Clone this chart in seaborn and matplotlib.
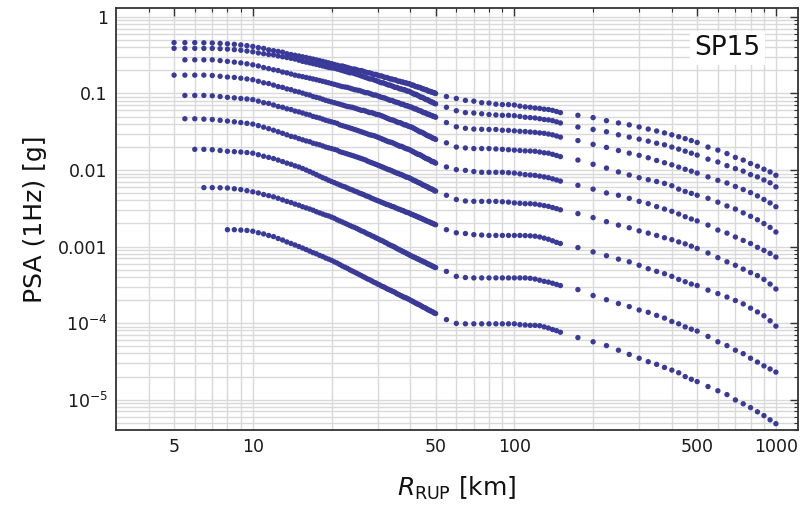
import numpy as np
import pandas as pd
import matplotlib
matplotlib.use("Agg")
import matplotlib.pyplot as plt
import seaborn as sns
from matplotlib.ticker import FixedLocator, NullFormatter, LogLocator

# ---------------- data (distances in km, log10 of PSA in g) ----------------
r_near = [5.0,5.5,6.0,6.5,7.0,7.5,8.0,8.5,9.0,9.5,10.0,10.5,11.0,11.5,12.0,12.5,13.0,13.5,14.0,14.5,
          15.0,15.5,16.0,16.5,17.0,17.5,18.0,18.5,19.0,19.5,20.0,20.5,21.0,21.5,22.0,22.5,23.0,23.5,24.0,24.5,
          25.0,25.5,26.0,26.5,27.0,27.5,28.0,28.5,29.0,29.5,30.0,30.5,31.0,31.5,32.0,32.5,33.0,33.5,34.0,34.5,
          35.0,35.5,36.0,36.5,37.0,37.5,38.0,38.5,39.0,39.5,40.0,40.5,41.0,41.5,42.0,42.5,43.0,43.5,44.0,44.5,
          45.0,45.5,46.0,46.5,47.0,47.5,48.0,48.5,49.0,49.5,50.0]
r_mid = [55,60,65,70,75,80,85,90,95,100,105,110,115,120,125,130,135,140,145,150]
r_far = [175,200,225,250,275,300,325,350,375,400,425,450,475,500,550,600,650,700,750,800,850,900,950,1000]

log_psa_c1_near = [-0.335,-0.335,-0.335,-0.337,-0.34,-0.345,-0.35,-0.357,-0.365,-0.375,
    -0.385,-0.40,-0.41,-0.43,-0.44,-0.45,-0.46,-0.48,-0.49,-0.50,-0.51,
    -0.52,-0.53,-0.54,-0.55,-0.56,-0.57,-0.58,-0.59,-0.60,-0.61,
    -0.62,-0.63,-0.64,-0.64,-0.65,-0.66,-0.67,-0.68,-0.68,-0.69,
    -0.70,-0.70,-0.71,-0.72,-0.73,-0.73,-0.74,-0.75,-0.75,-0.76,
    -0.77,-0.77,-0.78,-0.79,-0.79,-0.80,-0.81,-0.81,-0.82,-0.82,-0.83,-0.84,-0.84,-0.85,-0.85,-0.86,-0.86,-0.87,-0.87,-0.88,
    -0.89,-0.89,-0.90,-0.91,-0.91,-0.92,-0.92,-0.93,-0.94,-0.94,-0.95,-0.95,-0.96,-0.97,-0.97,-0.98,-0.98,-0.99,-0.99,-1.00]
log_psa_c2_near = [-0.41,-0.41,-0.41,-0.41,-0.41,-0.415,-0.42,-0.427,-0.435,-0.445,
    -0.455,-0.47,-0.48,-0.49,-0.495,-0.51,-0.52,-0.53,-0.54,-0.55,-0.565,
    -0.58,-0.59,-0.60,-0.61,-0.62,-0.63,-0.64,-0.65,-0.66,-0.665,
    -0.67,-0.68,-0.69,-0.70,-0.71,-0.72,-0.73,-0.73,-0.74,-0.75,
    -0.76,-0.77,-0.78,-0.79,-0.80,-0.81,-0.81,-0.82,-0.83,-0.84,
    -0.85,-0.86,-0.86,-0.87,-0.88,-0.89,-0.89,-0.90,-0.91,-0.92,-0.92,-0.93,-0.94,-0.94,-0.95,-0.95,-0.96,-0.97,-0.97,-0.98,
    -0.99,-1.00,-1.01,-1.01,-1.02,-1.03,-1.04,-1.05,-1.05,-1.06,-1.07,-1.08,-1.08,-1.09,-1.10,-1.11,-1.11,-1.12,-1.13,-1.135]
log_psa_c3_near = [-0.56,-0.56,-0.56,-0.56,-0.57,-0.58,-0.59,-0.60,-0.612,
    -0.625,-0.64,-0.66,-0.675,-0.69,-0.70,-0.72,-0.73,-0.745,-0.76,-0.77,
    -0.78,-0.79,-0.80,-0.81,-0.82,-0.83,-0.84,-0.85,-0.86,-0.87,
    -0.88,-0.89,-0.90,-0.91,-0.915,-0.92,-0.93,-0.94,-0.95,-0.955,
    -0.96,-0.97,-0.98,-0.99,-0.99,-1.00,-1.01,-1.02,-1.02,-1.03,
    -1.04,-1.05,-1.055,-1.06,-1.07,-1.08,-1.09,-1.09,-1.10,-1.11,-1.115,-1.12,-1.13,-1.14,-1.14,-1.15,-1.16,-1.16,-1.17,-1.175,
    -1.18,-1.19,-1.20,-1.20,-1.21,-1.22,-1.225,-1.23,-1.24,-1.25,-1.25,-1.26,-1.27,-1.27,-1.28,-1.285,-1.29,-1.30,-1.30,-1.31]
log_psa_c4_near = [-0.76,-0.76,-0.76,-0.76,-0.765,-0.775,-0.785,-0.79,-0.80,-0.81,
    -0.82,-0.84,-0.86,-0.87,-0.89,-0.91,-0.92,-0.94,-0.95,-0.97,-0.98,
    -0.995,-1.01,-1.02,-1.04,-1.05,-1.06,-1.075,-1.09,-1.10,-1.11,
    -1.12,-1.13,-1.14,-1.15,-1.16,-1.17,-1.175,-1.18,-1.19,-1.20,
    -1.21,-1.22,-1.22,-1.23,-1.24,-1.25,-1.25,-1.26,-1.27,-1.275,
    -1.28,-1.29,-1.30,-1.31,-1.32,-1.33,-1.34,-1.345,-1.35,-1.36,-1.37,-1.38,-1.38,-1.39,-1.40,-1.41,-1.41,-1.42,-1.43,-1.435,
    -1.44,-1.45,-1.46,-1.47,-1.48,-1.49,-1.50,-1.505,-1.51,-1.52,-1.53,-1.54,-1.55,-1.555,-1.56,-1.57,-1.58,-1.585,-1.59,-1.60]
log_psa_c5_near = [-1.025,-1.025,-1.025,-1.03,-1.04,-1.05,-1.057,-1.065,-1.072,
    -1.08,-1.10,-1.12,-1.13,-1.15,-1.17,-1.18,-1.20,-1.21,-1.23,-1.24,
    -1.255,-1.27,-1.28,-1.30,-1.31,-1.32,-1.335,-1.35,-1.36,-1.37,
    -1.38,-1.39,-1.41,-1.42,-1.43,-1.44,-1.45,-1.46,-1.47,-1.48,
    -1.49,-1.50,-1.51,-1.52,-1.53,-1.54,-1.545,-1.55,-1.56,-1.57,
    -1.58,-1.59,-1.60,-1.61,-1.62,-1.63,-1.635,-1.64,-1.65,-1.66,-1.67,-1.68,-1.69,-1.69,-1.70,-1.71,-1.72,-1.725,-1.73,-1.74,
    -1.75,-1.76,-1.77,-1.78,-1.79,-1.795,-1.80,-1.81,-1.82,-1.83,-1.84,-1.85,-1.855,-1.86,-1.87,-1.88,-1.89,-1.89,-1.90,-1.91]
log_psa_c6_near = [-1.33,-1.33,-1.335,-1.34,-1.35,-1.36,-1.37,-1.38,-1.39,
    -1.40,-1.42,-1.44,-1.46,-1.48,-1.50,-1.52,-1.54,-1.56,-1.57,-1.59,
    -1.605,-1.62,-1.63,-1.65,-1.66,-1.67,-1.685,-1.70,-1.71,-1.72,
    -1.73,-1.74,-1.76,-1.77,-1.78,-1.79,-1.80,-1.81,-1.82,-1.83,
    -1.84,-1.85,-1.86,-1.87,-1.885,-1.895,-1.905,-1.915,-1.925,-1.935,
    -1.945,-1.955,-1.965,-1.975,-1.985,-1.995,-2.00,-2.01,-2.02,-2.03,-2.04,-2.045,-2.055,-2.06,-2.07,-2.08,-2.09,-2.095,-2.10,-2.11,
    -2.12,-2.13,-2.14,-2.145,-2.155,-2.165,-2.17,-2.18,-2.19,-2.20,-2.205,-2.215,-2.22,-2.23,-2.24,-2.245,-2.25,-2.26,-2.27,-2.275]
log_psa_c7_near = [-1.73,-1.73,-1.735,-1.745,-1.755,-1.76,-1.765,-1.772,
    -1.78,-1.80,-1.82,-1.835,-1.85,-1.87,-1.89,-1.91,-1.925,-1.945,-1.96,
    -1.98,-2.00,-2.02,-2.04,-2.06,-2.08,-2.10,-2.115,-2.135,-2.15,
    -2.165,-2.18,-2.195,-2.21,-2.22,-2.235,-2.25,-2.26,-2.275,-2.285,
    -2.30,-2.31,-2.32,-2.335,-2.345,-2.355,-2.37,-2.38,-2.39,-2.40,
    -2.41,-2.42,-2.43,-2.44,-2.45,-2.455,-2.465,-2.475,-2.48,-2.49,-2.50,-2.51,-2.515,-2.525,-2.53,-2.54,-2.55,-2.555,-2.56,-2.57,
    -2.58,-2.585,-2.595,-2.60,-2.61,-2.615,-2.625,-2.63,-2.64,-2.645,-2.655,-2.66,-2.67,-2.675,-2.68,-2.69,-2.695,-2.70,-2.71,-2.715]
log_psa_c8_near = [-2.23,-2.23,-2.232,-2.235,-2.245,-2.255,-2.27,
    -2.285,-2.30,-2.32,-2.335,-2.35,-2.37,-2.39,-2.41,-2.425,-2.445,-2.46,
    -2.48,-2.495,-2.51,-2.525,-2.545,-2.56,-2.575,-2.59,-2.60,-2.615,
    -2.63,-2.65,-2.665,-2.68,-2.695,-2.71,-2.725,-2.74,-2.75,-2.765,
    -2.78,-2.795,-2.805,-2.82,-2.835,-2.845,-2.86,-2.87,-2.885,-2.895,
    -2.91,-2.92,-2.93,-2.945,-2.955,-2.97,-2.98,-2.99,-3.00,-3.01,-3.025,-3.035,-3.045,-3.055,-3.065,-3.075,-3.085,-3.095,-3.105,-3.115,
    -3.125,-3.135,-3.14,-3.15,-3.16,-3.165,-3.175,-3.185,-3.19,-3.20,-3.205,-3.215,-3.225,-3.23,-3.24,-3.245,-3.255,-3.26,-3.27,-3.275]
log_psa_c9_near = [-2.78,-2.78,-2.785,-2.79,
    -2.80,-2.82,-2.835,-2.855,-2.87,-2.895,-2.915,-2.94,-2.96,-2.98,-3.00,
    -3.02,-3.04,-3.06,-3.08,-3.095,-3.115,-3.13,-3.15,-3.165,-3.18,
    -3.20,-3.215,-3.235,-3.255,-3.27,-3.285,-3.305,-3.32,-3.335,-3.35,
    -3.365,-3.38,-3.395,-3.41,-3.425,-3.435,-3.45,-3.465,-3.475,-3.49,
    -3.50,-3.515,-3.525,-3.535,-3.55,-3.56,-3.57,-3.58,-3.59,-3.60,-3.615,-3.625,-3.635,-3.645,-3.655,-3.665,-3.67,-3.68,-3.69,-3.70,
    -3.71,-3.72,-3.73,-3.74,-3.75,-3.755,-3.765,-3.775,-3.785,-3.795,-3.80,-3.81,-3.82,-3.83,-3.835,-3.845,-3.85,-3.86,-3.87,-3.875]

log_psa_c1_mid = [-1.04,-1.065,-1.09,-1.10,-1.12,-1.125,-1.14,-1.145,-1.145,-1.15,-1.165,-1.175,-1.18,-1.19,-1.195,-1.205,-1.21,-1.22,-1.235,-1.25]
log_psa_c2_mid = [-1.18,-1.225,-1.25,-1.255,-1.265,-1.275,-1.28,-1.285,-1.285,-1.29,-1.30,-1.31,-1.315,-1.32,-1.33,-1.34,-1.345,-1.355,-1.37,-1.385]
log_psa_c3_mid = [-1.38,-1.435,-1.455,-1.465,-1.468,-1.47,-1.47,-1.48,-1.482,-1.488,-1.494,-1.497,-1.503,-1.508,-1.515,-1.52,-1.53,-1.54,-1.555,-1.57]
log_psa_c4_mid = [-1.645,-1.70,-1.712,-1.72,-1.72,-1.72,-1.725,-1.73,-1.735,-1.74,-1.745,-1.75,-1.752,-1.755,-1.765,-1.775,-1.78,-1.795,-1.81,-1.825]
log_psa_c5_mid = [-1.96,-1.995,-2.005,-2.02,-2.03,-2.03,-2.03,-2.03,-2.035,-2.04,-2.05,-2.06,-2.065,-2.07,-2.08,-2.09,-2.10,-2.115,-2.13,-2.145]
log_psa_c6_mid = [-2.33,-2.385,-2.405,-2.41,-2.41,-2.41,-2.41,-2.415,-2.42,-2.43,-2.435,-2.44,-2.44,-2.445,-2.455,-2.465,-2.475,-2.49,-2.505,-2.52]
log_psa_c7_mid = [-2.78,-2.82,-2.83,-2.845,-2.85,-2.855,-2.855,-2.855,-2.855,-2.855,-2.855,-2.857,-2.86,-2.865,-2.875,-2.89,-2.905,-2.925,-2.945,-2.96]
log_psa_c8_mid = [-3.325,-3.39,-3.405,-3.41,-3.41,-3.41,-3.41,-3.41,-3.41,-3.41,-3.41,-3.41,-3.415,-3.425,-3.44,-3.455,-3.465,-3.48,-3.495,-3.51]
log_psa_c9_mid = [-3.955,-4.005,-4.01,-4.01,-4.01,-4.01,-4.01,-4.01,-4.01,-4.01,-4.02,-4.025,-4.03,-4.03,-4.035,-4.05,-4.065,-4.085,-4.10,-4.12]

log_psa_c1_far = [-1.285,-1.315,-1.355,-1.385,-1.41,-1.437,-1.465,-1.49,-1.515,-1.54,-1.565,-1.59,-1.615,-1.64,-1.70,-1.74,-1.785,-1.835,-1.87,-1.915,-1.95,-1.99,-2.025,-2.069]
log_psa_c2_far = [-1.438,-1.47,-1.50,-1.54,-1.57,-1.597,-1.623,-1.65,-1.67,-1.70,-1.727,-1.754,-1.78,-1.805,-1.858,-1.895,-1.943,-1.982,-2.015,-2.06,-2.09,-2.13,-2.167,-2.22]
log_psa_c3_far = [-1.615,-1.665,-1.705,-1.745,-1.78,-1.808,-1.84,-1.875,-1.905,-1.932,-1.962,-1.99,-2.015,-2.04,-2.09,-2.135,-2.17,-2.215,-2.255,-2.295,-2.338,-2.385,-2.43,-2.48]
log_psa_c4_far = [-1.87,-1.925,-1.975,-2.025,-2.065,-2.10,-2.127,-2.15,-2.175,-2.205,-2.25,-2.28,-2.305,-2.33,-2.37,-2.42,-2.47,-2.51,-2.56,-2.605,-2.65,-2.70,-2.75,-2.81]
log_psa_c5_far = [-2.20,-2.25,-2.30,-2.33,-2.37,-2.41,-2.44,-2.478,-2.51,-2.54,-2.575,-2.61,-2.64,-2.665,-2.72,-2.785,-2.825,-2.875,-2.92,-2.96,-3.01,-3.05,-3.09,-3.137]
log_psa_c6_far = [-2.57,-2.622,-2.675,-2.72,-2.755,-2.795,-2.825,-2.855,-2.885,-2.91,-2.94,-2.965,-2.995,-3.025,-3.085,-3.145,-3.20,-3.245,-3.295,-3.34,-3.38,-3.43,-3.49,-3.555]
log_psa_c7_far = [-3.014,-3.07,-3.12,-3.165,-3.20,-3.245,-3.29,-3.325,-3.355,-3.39,-3.43,-3.46,-3.49,-3.51,-3.57,-3.615,-3.66,-3.705,-3.75,-3.805,-3.855,-3.905,-3.97,-4.04]
log_psa_c8_far = [-3.563,-3.64,-3.695,-3.745,-3.785,-3.83,-3.86,-3.90,-3.935,-3.98,-4.01,-4.05,-4.08,-4.105,-4.175,-4.245,-4.295,-4.355,-4.40,-4.46,-4.51,-4.56,-4.60,-4.641]
log_psa_c9_far = [-4.19,-4.245,-4.295,-4.355,-4.41,-4.46,-4.505,-4.54,-4.58,-4.615,-4.65,-4.70,-4.735,-4.765,-4.83,-4.885,-4.935,-5.005,-5.055,-5.105,-5.16,-5.21,-5.265,-5.315]

curves = {
    "c1": (log_psa_c1_near, log_psa_c1_mid, log_psa_c1_far),
    "c2": (log_psa_c2_near, log_psa_c2_mid, log_psa_c2_far),
    "c3": (log_psa_c3_near, log_psa_c3_mid, log_psa_c3_far),
    "c4": (log_psa_c4_near, log_psa_c4_mid, log_psa_c4_far),
    "c5": (log_psa_c5_near, log_psa_c5_mid, log_psa_c5_far),
    "c6": (log_psa_c6_near, log_psa_c6_mid, log_psa_c6_far),
    "c7": (log_psa_c7_near, log_psa_c7_mid, log_psa_c7_far),
    "c8": (log_psa_c8_near, log_psa_c8_mid, log_psa_c8_far),
    "c9": (log_psa_c9_near, log_psa_c9_mid, log_psa_c9_far),
}

x_major = [5, 10, 50, 100, 500, 1000]
x_major_labels = ["5", "10", "50", "100", "500", "1000"]
x_minor = [4, 6, 7, 8, 9, 20, 30, 40, 60, 70, 80, 90, 200, 300, 400, 600, 700, 800, 900]
y_major = [1, 0.1, 0.01, 0.001, 1e-4, 1e-5]
y_major_labels = ["1", "0.1", "0.01", "0.001", r"$10^{-4}$", r"$10^{-5}$"]

# ---------------- build table ----------------
rows = []
for name, (near, mid, far) in curves.items():
    rn = r_near[len(r_near) - len(near):]
    for r, v in zip(list(rn) + r_mid + r_far, list(near) + mid + far):
        rows.append((name, r, 10.0 ** v))
df = pd.DataFrame(rows, columns=["curve", "R", "PSA"])

# ---------------- plot ----------------
sns.set_style("white")
plt.rcParams["font.family"] = ["DejaVu Sans"]
plt.rcParams["mathtext.fontset"] = "dejavusans"

fig = plt.figure(figsize=(8.03, 5.14), dpi=100)
ax = fig.add_axes([0.1445, 0.1634, 0.8493, 0.8220])

dot_color = "#3a3a98"
sns.scatterplot(data=df, x="R", y="PSA", ax=ax, color=dot_color, s=15,
                linewidth=0, edgecolor="none", legend=False, zorder=3)

ax.set_xscale("log")
ax.set_yscale("log")
ax.set_xlim(3.0, 1215)
ax.set_ylim(4.0e-6, 1.33)

ax.xaxis.set_major_locator(FixedLocator(x_major))
ax.set_xticklabels(x_major_labels)
ax.xaxis.set_minor_locator(FixedLocator(x_minor))
ax.xaxis.set_minor_formatter(NullFormatter())
ax.yaxis.set_major_locator(FixedLocator(y_major))
ax.set_yticklabels(y_major_labels)
ax.yaxis.set_minor_locator(LogLocator(base=10, subs=np.arange(2, 10), numticks=20))
ax.yaxis.set_minor_formatter(NullFormatter())

ax.grid(True, which="both", color="#d9d9d9", linewidth=1.0)
ax.set_axisbelow(True)

ax.tick_params(which="both", direction="in", top=True, right=True,
               color="#333333", labelsize=12.5, labelcolor="#1a1a1a")
ax.tick_params(which="major", length=6, width=1.0, pad=6)
ax.tick_params(which="minor", length=3, width=0.8)
for sp in ax.spines.values():
    sp.set_color("#333333")
    sp.set_linewidth(1.3)

ax.set_xlabel(r"$R_{\mathrm{RUP}}$ [km]", fontsize=18, labelpad=13, color="#111111")
ax.set_ylabel("PSA (1Hz) [g]", fontsize=18, labelpad=8, color="#111111")

ax.text(0.897, 0.904, "SP15", transform=ax.transAxes, fontsize=19,
        ha="center", va="center", color="#111111", zorder=5,
        bbox=dict(facecolor="white", edgecolor="none", pad=3))

fig.savefig("out.png", dpi=100)
